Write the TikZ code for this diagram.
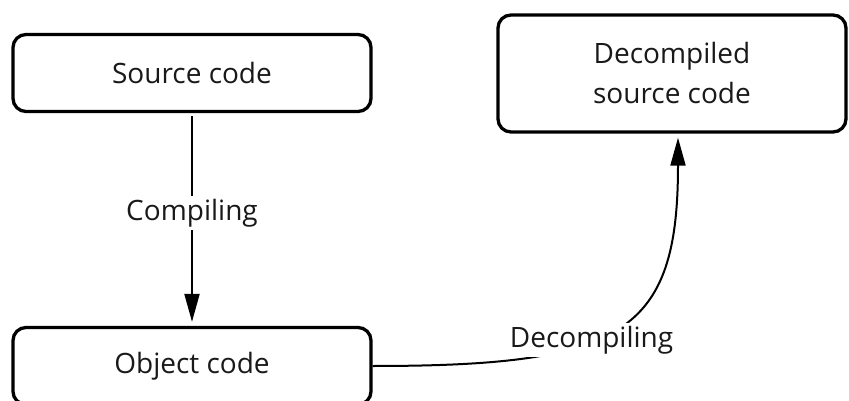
\documentclass[tikz,border=0pt]{standalone}
\usepackage{fontspec}
\setmainfont{Open Sans}
\usetikzlibrary{arrows.meta}
\begin{document}
\begin{tikzpicture}[x=1pt,y=-1pt,
  codebox/.style={draw=black, fill=white, line width=3.3pt, rounded corners=13pt,
    align=center, inner sep=0pt, text=black!90,
    font=\fontsize{28}{40}\selectfont},
  flow/.style={line width=2pt, -{Triangle[length=28pt,width=15pt]}},
  flowlabel/.style={fill=white, inner sep=3pt, text=black!90,
    font=\fontsize{28}{34}\selectfont}
]
  % page area (the lower box runs off the bottom edge)
  \clip (0,0) rectangle (849,401);
  \fill[white] (0,0) rectangle (849,401);

  % the three stages
  \node[codebox, minimum width=358pt, minimum height=77pt] (src) at (192,73) {Source code};
  \node[codebox, minimum width=358pt, minimum height=77pt] (obj) at (192,366) {Object code};
  \node[codebox, minimum width=348pt, minimum height=117pt] (dec) at (672,73.5)
    {Decompiled\\source code};

  % compiling: source -> object
  \draw[flow, shorten <=3pt, shorten >=4pt] (src.south) -- (obj.north)
    node[flowlabel, pos=0.47] (clab) {Compiling};

  % decompiling: object -> decompiled source
  \coordinate (decin) at ([xshift=6pt]dec.south);
  \draw[flow, shorten >=4pt] (obj.east) .. controls +(250,0) and +(0,200) .. (decin)
    node[flowlabel, pos=0.41] (dlab) {Decompiling};
\end{tikzpicture}
\end{document}
